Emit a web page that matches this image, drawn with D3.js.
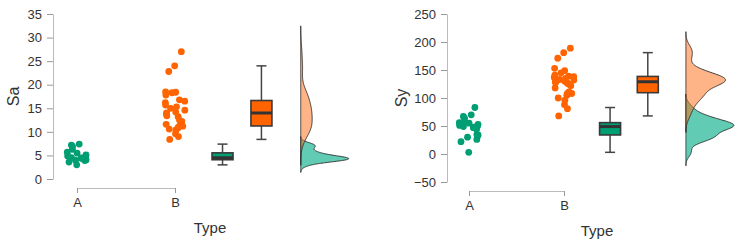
<!DOCTYPE html>
<html>
<head>
<meta charset="utf-8">
<script src="https://cdn.jsdelivr.net/npm/d3@7"></script>
<style>
body { margin: 0; background: #fff; }
text { font-family: "Liberation Sans", Arial, sans-serif; fill: #333; }
</style>
</head>
<body>
<svg width="742" height="247"></svg>
<script>
// categories
var types = ["A", "B"];

// Sa values per type
var saA = [3.0, 3.6, 3.9, 4.0, 4.05, 4.1, 4.2, 4.3, 4.4, 4.45, 4.55, 4.7, 4.9, 5.1, 5.5, 5.7, 6.3, 6.9, 7.2, 7.4];
var saB = [8.4, 9.0, 9.6, 10.4, 10.6, 10.8, 11.0, 11.2, 11.3, 11.6, 12.2, 12.5, 13.2, 13.4, 13.8, 14.0,
  14.2, 14.6, 15.0, 15.3, 15.7, 16.2, 16.5, 16.8, 17.8, 18.3, 18.4, 18.5, 22.8, 24.0, 27.0];

// Sy values per type
var syA = [3, 22, 26, 30, 33, 34, 35, 44, 47, 48, 49, 50, 51, 53, 55, 56, 58, 64, 67, 70, 83];
var syB = [68, 81, 88, 96, 100, 105, 108, 108, 111, 118, 122, 125, 127, 128, 128, 129, 130, 132, 133, 135,
  136, 137, 138, 139, 141, 145, 149, 153, 171, 181, 189];

// tick labels
var saTicks = [0, 5, 10, 15, 20, 25, 30, 35];
var syTicks = [-50, 0, 50, 100, 150, 200, 250];

var colors = { A: "#009e73", B: "#ff6400" };
var densFill = { A: "#00ad85", B: "#ff6a10" };

var svg = d3.select("svg");

function kde(values) {
  var n = values.length,
      sd = d3.deviation(values),
      iqr = d3.quantile(values, 0.75) - d3.quantile(values, 0.25),
      bw = 0.9 * Math.min(sd, iqr / 1.34) * Math.pow(n, -0.2),
      lo = d3.min(values) - 3 * bw,
      hi = d3.max(values) + 3 * bw;
  return d3.range(0, 201).map(function(i) {
    var v = lo + (hi - lo) * i / 200;
    var d = d3.mean(values, function(x) {
      var u = (v - x) / bw;
      return Math.exp(-0.5 * u * u) / Math.sqrt(2 * Math.PI);
    }) / bw;
    return [v, d];
  });
}

function boxStats(values) {
  var q1 = d3.quantile(values, 0.25), med = d3.quantile(values, 0.5), q3 = d3.quantile(values, 0.75),
      iqr = q3 - q1;
  return {
    q1: q1, med: med, q3: q3,
    lo: d3.min(values.filter(function(v) { return v >= q1 - 1.5 * iqr; })),
    hi: d3.max(values.filter(function(v) { return v <= q3 + 1.5 * iqr; }))
  };
}

function drawPanel(p) {
  var g = svg.append("g");
  var y = d3.scaleLinear().domain(d3.extent(p.ticks)).range([p.yBottom, p.yTop]);
  var x = d3.scaleLinear().domain([1, 2]).range([p.xA, p.xB]);
  var xCat = d3.scalePoint().domain(types).range([p.xA, p.xB]);

  // y axis
  var ya = g.append("g")
    .attr("transform", "translate(" + p.axisX + ",0)")
    .call(d3.axisLeft(y).tickValues(p.ticks).tickSize(6).tickSizeOuter(0).tickPadding(5));
  ya.select(".domain").attr("stroke", "#bbb");
  ya.selectAll(".tick line").attr("stroke", "#999");
  ya.selectAll("text").attr("font-size", 13).attr("fill", "#333")
    .attr("font-family", "Liberation Sans, Arial, sans-serif");

  // x axis
  var xa = g.append("g")
    .attr("transform", "translate(0," + (p.yBottom + 9) + ")")
    .call(d3.axisBottom(xCat).tickSize(5).tickSizeOuter(0).tickPadding(5));
  xa.select(".domain").attr("stroke", "#bbb");
  xa.selectAll(".tick line").attr("stroke", "#999");
  xa.selectAll("text").attr("font-size", 13).attr("fill", "#333")
    .attr("font-family", "Liberation Sans, Arial, sans-serif");

  g.append("text")
    .attr("transform", "translate(" + p.titleX + "," + ((p.yTop + p.yBottom) / 2) + ") rotate(-90)")
    .attr("text-anchor", "middle").attr("dy", "0.35em")
    .attr("font-size", 16).text(p.name);

  g.append("text")
    .attr("x", p.typeX).attr("y", p.yBottom + 54)
    .attr("text-anchor", "middle").attr("font-size", 15).text("Type");

  // jittered points
  types.forEach(function(t, k) {
    var jit = d3.randomUniform.source(d3.randomLcg(0.17 + k * 0.31))(-10, 10);
    g.append("g").selectAll("circle")
      .data(p.groups[t])
      .enter().append("circle")
      .attr("cx", function() { return xCat(t) + jit(); })
      .attr("cy", function(d) { return y(d); })
      .attr("r", 3.4)
      .attr("fill", colors[t]);
  });

  // boxplots
  var boxPos = { A: 2.485, B: 2.882 };
  types.forEach(function(t) {
    var s = boxStats(p.groups[t]), cx = x(boxPos[t]), bg = g.append("g");
    bg.append("line").attr("x1", cx).attr("x2", cx).attr("y1", y(s.lo)).attr("y2", y(s.hi))
      .attr("stroke", "#444").attr("stroke-width", 1.5);
    [s.lo, s.hi].forEach(function(v) {
      bg.append("line").attr("x1", cx - 5).attr("x2", cx + 5).attr("y1", y(v)).attr("y2", y(v))
        .attr("stroke", "#444").attr("stroke-width", 1.5);
    });
    bg.append("rect").attr("x", cx - 10.5).attr("width", 21)
      .attr("y", y(s.q3)).attr("height", y(s.q1) - y(s.q3))
      .attr("fill", colors[t]).attr("stroke", "#3a3a3a").attr("stroke-width", 1.6);
    bg.append("line").attr("x1", cx - 10.5).attr("x2", cx + 10.5).attr("y1", y(s.med)).attr("y2", y(s.med))
      .attr("stroke", "#333").attr("stroke-width", 3);
  });

  // half densities
  var base = x(3.283);
  var dens = {};
  types.forEach(function(t) { dens[t] = kde(p.groups[t]); });
  var maxD = d3.max(types, function(t) { return d3.max(dens[t], function(d) { return d[1]; }); });
  var w = d3.scaleLinear().domain([0, maxD]).range([0, 48]);
  var area = d3.area()
    .y(function(d) { return y(d[0]); })
    .x0(base)
    .x1(function(d) { return base + w(d[1]); })
    .curve(d3.curveBasis);
  types.forEach(function(t) {
    g.append("path").datum(dens[t])
      .attr("d", area)
      .attr("fill", densFill[t]).attr("fill-opacity", t === "A" ? 0.62 : 0.5)
      .attr("stroke", "#2a2a2a").attr("stroke-width", 0.9);
  });
}

drawPanel({
  name: "Sa", groups: { A: saA, B: saB }, ticks: saTicks,
  yTop: 14, yBottom: 179, axisX: 53, xA: 77, xB: 175, titleX: 13, typeX: 210
});
drawPanel({
  name: "Sy", groups: { A: syA, B: syB }, ticks: syTicks,
  yTop: 14, yBottom: 182, axisX: 447, xA: 469, xB: 564, titleX: 401, typeX: 597
});
</script>
</body>
</html>
